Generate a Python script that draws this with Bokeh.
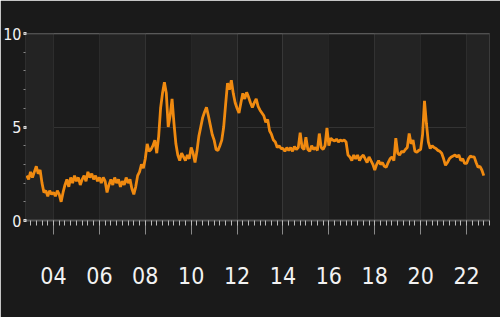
from bokeh.plotting import figure
from bokeh.models import FixedTicker, Range1d, BoxAnnotation, Span
from bokeh.embed import file_html
from bokeh.resources import INLINE

# ---- data (monthly, starting Nov 2002) ----
start_year = 2002
start_month = 11
values = [
    2.4, 2.2,
    2.6, 2.3, 2.6, 2.9, 2.5, 2.7, 2.0, 1.5, 1.6, 1.3, 1.6, 1.4,          # 2003
    1.5, 1.3, 1.6, 1.4, 1.0, 1.5, 1.9, 2.2, 1.8, 2.3, 2.0, 2.4,          # 2004
    2.1, 2.3, 1.9, 2.2, 2.4, 2.1, 2.6, 2.3, 2.5, 2.2, 2.4, 2.1,          # 2005
    2.3, 2.0, 2.3, 2.1, 1.5, 1.9, 2.2, 1.9, 2.3, 2.0, 2.2, 1.8,          # 2006
    2.1, 1.9, 2.3, 2.0, 2.2, 1.7, 1.4, 1.8, 2.4, 2.6, 3.0, 2.8,          # 2007
    3.3, 4.1, 3.7, 3.8, 4.0, 4.3, 3.6, 4.5, 6.0, 6.8, 7.4, 6.8,          # 2008
    5.0, 5.6, 6.5, 5.2, 4.1, 3.5, 3.2, 3.6, 3.4, 3.2, 3.5, 3.3,          # 2009
    3.9, 3.6, 3.1, 3.7, 4.5, 5.0, 5.5, 5.8, 6.05, 5.6, 5.1, 4.6,         # 2010
    4.3, 3.8, 3.75, 4.0, 4.3, 5.0, 6.2, 7.35, 7.0, 7.5, 6.8, 6.3,        # 2011
    6.0, 5.75, 6.3, 6.8, 6.5, 6.85, 6.6, 6.3, 6.05, 6.3, 6.5, 6.1,       # 2012
    5.9, 5.75, 5.6, 5.25, 5.4, 4.8, 4.6, 4.3, 4.2, 3.9, 4.0, 3.85,       # 2013
    3.85, 3.7, 3.9, 3.75, 3.9, 3.7, 3.95, 3.8, 3.9, 4.7, 3.9, 3.8,       # 2014
    4.45, 3.8, 3.7, 4.0, 3.8, 3.9, 3.75, 4.65, 3.9, 3.8, 4.0, 4.95,      # 2015
    4.0, 4.4, 4.3, 4.25, 4.35, 4.2, 4.3, 4.25, 4.3, 4.2, 3.5, 3.4,       # 2016
    3.2, 3.5, 3.3, 3.5, 3.2, 3.4, 3.5, 3.3, 3.1, 3.4, 3.2, 3.0,          # 2017
    2.7, 3.0, 3.2, 3.0, 3.1, 2.9, 2.85, 3.1, 3.3, 3.4, 3.2, 4.4,         # 2018
    3.6, 3.5, 3.7, 3.65, 3.8, 3.9, 4.65, 4.1, 4.3, 3.7, 3.65, 3.75,      # 2019
    3.8, 4.6, 6.4, 5.2, 4.2, 3.85, 4.0, 3.9, 3.85, 3.75, 3.7, 3.6,       # 2020
    3.3, 2.95, 3.1, 3.3, 3.4, 3.45, 3.5, 3.4, 3.5, 3.2, 3.3, 3.05,       # 2021
    3.05, 3.3, 3.45, 3.4, 3.4, 3.1, 2.85, 2.9, 2.7, 2.4,                 # 2022
]
dates = [start_year + (start_month - 1 + i) / 12.0 for i in range(len(values))]

x_ticks = [2004, 2006, 2008, 2010, 2012, 2014, 2016, 2018, 2020, 2022]
x_labels = ["04", "06", "08", "10", "12", "14", "16", "18", "20", "22"]
y_ticks = [0, 5, 10]
y_labels = ["0", "5", "10"]
band_starts = [2002, 2006, 2010, 2014, 2018, 2022]

FONT = "DejaVu Sans Condensed, DejaVu Sans, sans-serif"
X0, X1 = 2002.78, 2023.0

p = figure(width=500, height=317, output_backend="svg", toolbar_location=None,
           x_range=Range1d(X0, X1), y_range=Range1d(0, 10),
           min_border_left=24, min_border_right=11, min_border_top=33, min_border_bottom=97)
p.background_fill_color = "#1c1c1c"
p.border_fill_color = "#1a1a1a"
p.outline_line_color = None

for b in band_starts:
    p.add_layout(BoxAnnotation(left=b, right=b + 2, fill_color="#232323", fill_alpha=1.0,
                               line_color=None, level="underlay"))

# grid
p.xgrid.ticker = FixedTicker(ticks=x_ticks)
p.xgrid.grid_line_color = "#383838"
p.xgrid.grid_line_width = 1
p.ygrid.ticker = FixedTicker(ticks=[5])
p.ygrid.grid_line_color = "#333333"
p.add_layout(Span(location=10, dimension="width", line_color="#6a6a6a",
                  line_dash="1 1", line_width=2))

p.line(dates, values, line_color="#f08a10", line_width=2.8)

minor_x = [2002.75 + 0.25 * i for i in range(82)]
xa = p.xaxis[0]
xa.ticker = FixedTicker(ticks=x_ticks, minor_ticks=minor_x)
xa.major_label_overrides = {t: l for t, l in zip(x_ticks, x_labels)}
xa.axis_line_color = "#555555"
xa.axis_line_width = 2
xa.major_tick_line_color = "#888888"
xa.major_tick_out = 14
xa.major_tick_in = 0
xa.minor_tick_line_color = "#bbbbbb"
xa.minor_tick_out = 5
xa.minor_tick_in = 0
xa.major_label_text_color = "#f2f2f2"
xa.major_label_text_font = FONT
xa.major_label_text_font_size = "23px"
xa.major_label_standoff = 32

ya = p.yaxis[0]
ya.ticker = FixedTicker(ticks=y_ticks, minor_ticks=list(range(0, 11)))
ya.major_label_overrides = {t: l for t, l in zip(y_ticks, y_labels)}
ya.axis_line_color = "#2e2e2e"
ya.major_tick_line_color = "#dddddd"
ya.major_tick_line_width = 3
ya.major_tick_out = 2
ya.major_tick_in = 1
ya.minor_tick_line_color = "#888888"
ya.minor_tick_out = 2
ya.minor_tick_in = 0
ya.major_label_text_color = "#f2f2f2"
ya.major_label_text_font = FONT
ya.major_label_text_font_size = "16px"
ya.major_label_standoff = 2

open("out.html", "w").write(file_html(p, INLINE))
